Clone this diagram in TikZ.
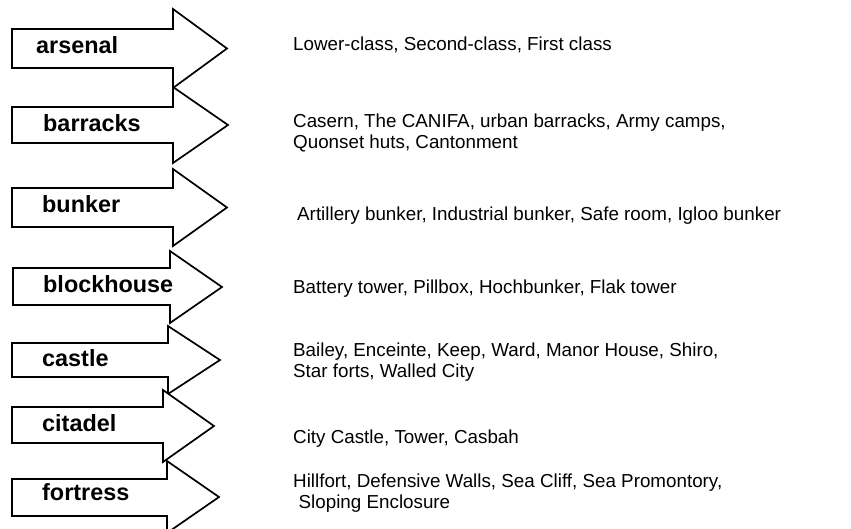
\documentclass[tikz,border=0pt]{standalone}
\usepackage{fontspec}
\setmainfont{Liberation Sans}
% #1 left x, #2 body top, #3 body bottom, #4 head x, #5 head top, #6 head bottom, #7 tip x, #8 tip y
\newcommand\blockarr[8]{\draw[arrowshape] (#1,#2) -- (#4,#2) -- (#4,#5) -- (#7,#8) -- (#4,#6) -- (#4,#3) -- (#1,#3) -- cycle;}
\begin{document}
\begin{tikzpicture}[x=1pt,y=-1pt,
  arrowshape/.style={draw=black,fill=white,line width=1.7pt,line join=miter},
  lbl/.style={anchor=base west,inner sep=0pt,font=\bfseries\fontsize{23.4}{28}\selectfont},
  desc/.style={anchor=base west,inner sep=0pt,font=\fontsize{18.8}{21.5}\selectfont}]
\useasboundingbox (0,0) rectangle (851,528);
\clip (0,0) rectangle (851,528);
\fill[white] (0,0) rectangle (851,528);
% arrows
\blockarr{12}{29}{68}{173}{9}{88}{227}{48.5}
\blockarr{12}{107}{143}{173}{87}{163}{228}{125}
\blockarr{12}{188}{227}{173}{169}{246}{227}{207.5}
\blockarr{13}{268}{305}{170}{251}{323}{222}{287}
\blockarr{12}{343}{377}{168}{326}{394}{220}{360}
\blockarr{12}{407}{443}{163}{390}{462}{214}{426}
\blockarr{12}{479}{516}{167}{461}{533}{219}{497}
% labels
\node[lbl] (arsenal) at (36,53.3) {arsenal};
\node[lbl] (barracks) at (43,131) {barracks};
\node[lbl] (bunker) at (42,212) {bunker};
\node[lbl] (blockhouse) at (43,292) {blockhouse};
\node[lbl] (castle) at (42,366) {castle};
\node[lbl] (citadel) at (42,431) {citadel};
\node[lbl] (fortress) at (42,500.7) {fortress};
% descriptions
\node[desc] (d1) at (293,50.7) {Lower-class, Second-class, First class};
\node[desc] (d2) at (293,127) {\begin{tabular}[t]{@{}l@{}}Casern, The CANIFA, urban barracks, Army camps,\\Quonset huts, Cantonment\end{tabular}};
\node[desc] (d3) at (297,220) {Artillery bunker, Industrial bunker, Safe room, Igloo bunker};
\node[desc] (d4) at (293,293) {Battery tower, Pillbox, Hochbunker, Flak tower};
\node[desc] (d5) at (293,356) {\begin{tabular}[t]{@{}l@{}}Bailey, Enceinte, Keep, Ward, Manor House, Shiro,\\Star forts, Walled City\end{tabular}};
\node[desc] (d6) at (293,443) {City Castle, Tower, Casbah};
\node[desc] (d7) at (293,487) {\begin{tabular}[t]{@{}l@{}}Hillfort, Defensive Walls, Sea Cliff, Sea Promontory,\\\hspace{5.5pt}Sloping Enclosure\end{tabular}};
\end{tikzpicture}
\end{document}
